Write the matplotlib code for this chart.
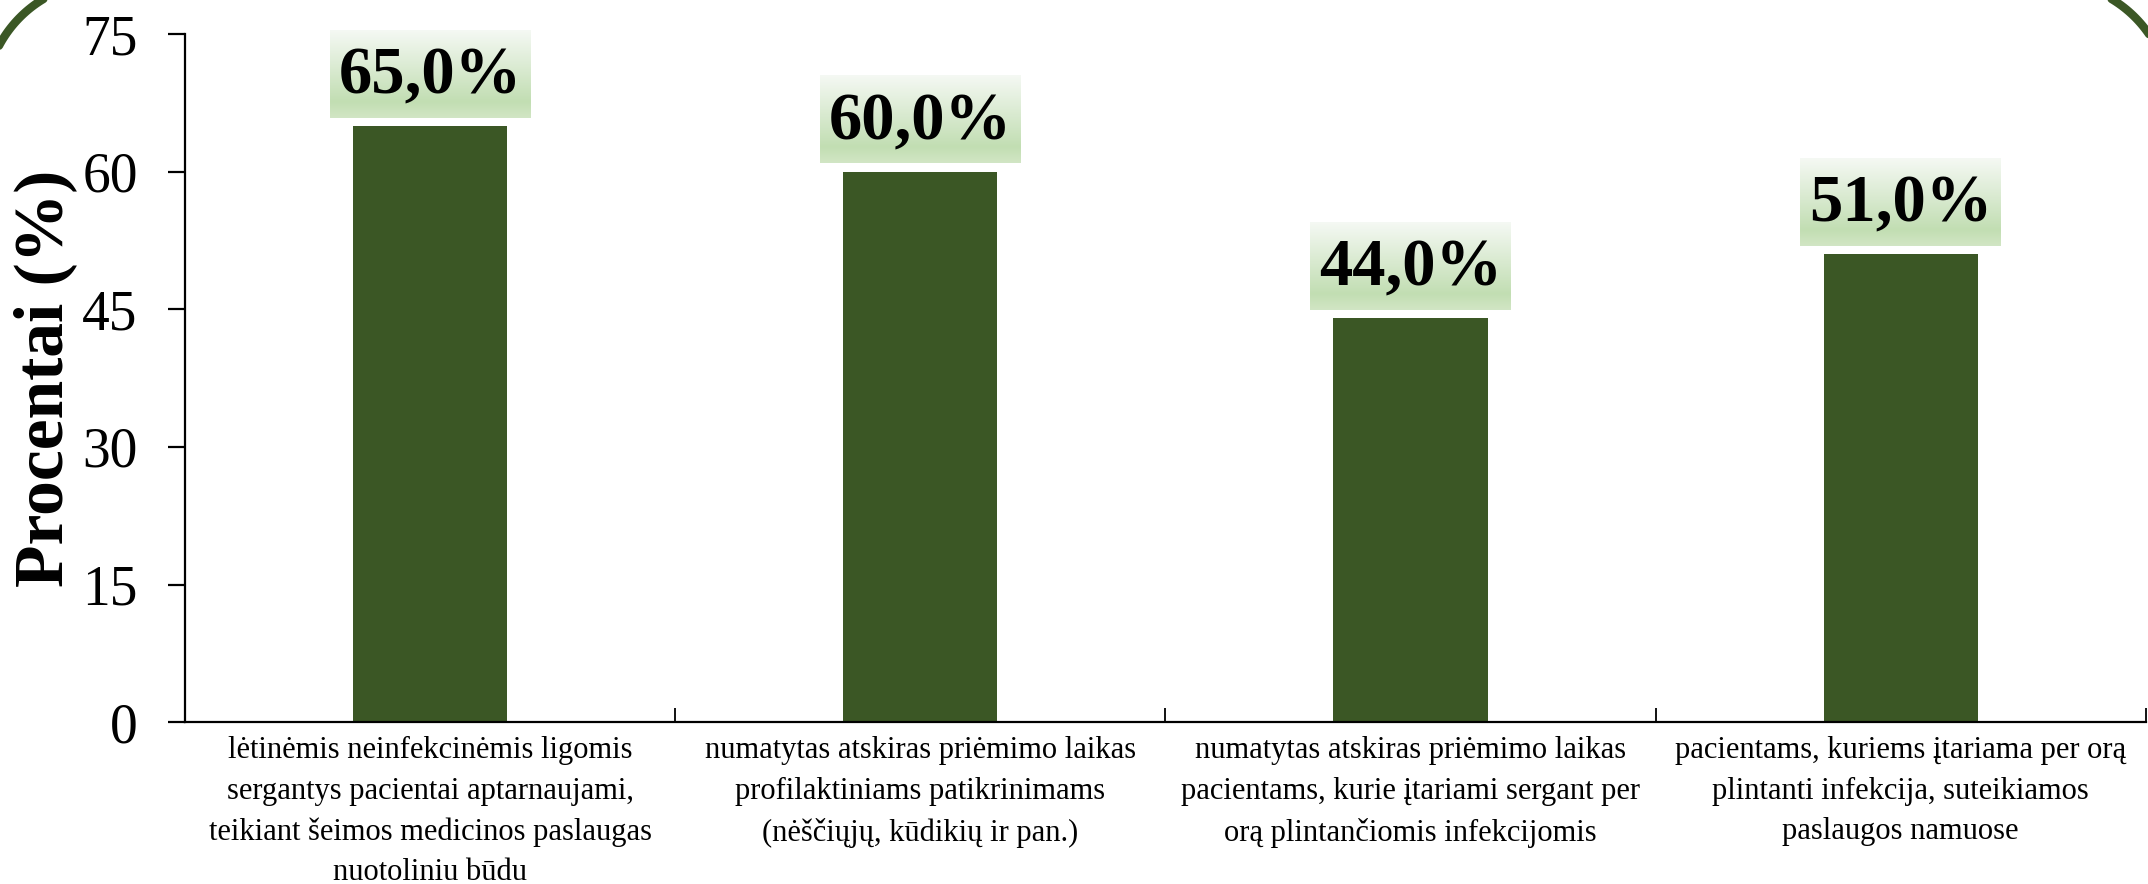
import matplotlib.pyplot as plt
import numpy as np

# -------------------------
# Global style
# -------------------------
plt.rcParams.update({
    "font.family": ["Liberation Serif", "DejaVu Serif"],
    "axes.linewidth": 1.6,
})

# -------------------------
# Data
# -------------------------
categories = [
    "lėtinėmis neinfekcinėmis ligomis\nsergantys pacientai aptarnaujami,\nteikiant šeimos medicinos paslaugas\nnuotoliniu būdu",
    "numatytas atskiras priėmimo laikas\nprofilaktiniams patikrinimams\n(nėščiųjų, kūdikių ir pan.)",
    "numatytas atskiras priėmimo laikas\npacientams, kurie įtariami sergant per\norą plintančiomis infekcijomis",
    "pacientams, kuriems įtariama per orą\nplintanti infekcija, suteikiamos\npaslaugos namuose",
]
values = [65.0, 60.0, 44.0, 51.0]
y_ticks = [0, 15, 30, 45, 60, 75]

BAR_COLOR = "#3b5725"
W, H = 2148, 884

fig = plt.figure(figsize=(W / 100, H / 100), dpi=100)

# -------------------------
# Rounded outer frame (pixel units, only top corners visible)
# -------------------------
ax_bg = fig.add_axes([0, 0, 1, 1], zorder=-1)
ax_bg.set_xlim(0, W)
ax_bg.set_ylim(0, H)
ax_bg.axis("off")
R = 120
left, right, top, bottom = -15, W + 22, H + 18, -300
th_l = np.linspace(np.pi / 2, np.pi, 60)
th_r = np.linspace(0, np.pi / 2, 60)[::-1]
fx = np.concatenate([[left], left + R + R * np.cos(th_l[::-1]),
                     right - R + R * np.cos(th_r[::-1])[::-1], [right]])
fy = np.concatenate([[bottom], top - R + R * np.sin(th_l[::-1]),
                     top - R + R * np.sin(th_r[::-1])[::-1], [bottom]])
ax_bg.plot(fx, fy, color=BAR_COLOR, linewidth=6, solid_capstyle="round")

ax = fig.add_axes([0.0861, 0.183, 0.9129, 0.7785])
ax.patch.set_alpha(0)

x = np.arange(len(categories))
ax.bar(x, values, width=0.315, color=BAR_COLOR, zorder=2)

# -------------------------
# Value labels on gradient boxes
# -------------------------
grad = np.linspace(0, 1, 100)
c_top = np.array([0.96, 0.975, 0.955])
c_mid = np.array([0.76, 0.87, 0.70])
c_bot = np.array([0.82, 0.90, 0.77])
rows = []
for t in grad:
    if t < 0.82:
        rows.append(c_top + (c_mid - c_top) * (t / 0.82))
    else:
        rows.append(c_mid + (c_bot - c_mid) * ((t - 0.82) / 0.18))
grad_img = np.array(rows)[:, None, :]

box_w, box_h, box_gap = 0.41, 9.5, 0.9
for xi, v in zip(x, values):
    y0 = v + box_gap
    ax.imshow(grad_img, extent=[xi - box_w / 2, xi + box_w / 2, y0, y0 + box_h],
              origin="upper", aspect="auto", zorder=3, clip_on=False,
              interpolation="bilinear")
    ax.text(xi, y0 + box_h / 2 - 0.3, f"{v:.1f}%".replace(".", ","),
            ha="center", va="center", fontsize=48, fontweight="bold",
            color="black", zorder=4, clip_on=False)

# -------------------------
# Axes styling
# -------------------------
ax.set_xlim(-0.5, 3.5)
ax.set_ylim(0, 75)
ax.set_yticks(y_ticks)
ax.set_yticklabels([str(t) for t in y_ticks], fontsize=40)
ax.tick_params(axis="y", direction="out", length=12, width=1.6, pad=22)

ax.set_xticks(x)
ax.set_xticklabels(categories, fontsize=22)
ax.set_xticks(np.arange(len(categories)) + 0.5, minor=True)
ax.tick_params(axis="x", which="major", length=0, pad=10)
ax.tick_params(axis="x", which="minor", direction="in", length=10, width=1.3)
for lab in ax.get_xticklabels():
    lab.set_linespacing(1.52)

for s in ["top", "right"]:
    ax.spines[s].set_visible(False)

ax.set_ylabel("Procentai (%)", fontsize=50, fontweight="bold")
ax.yaxis.set_label_coords(-0.055, 0.5)

fig.savefig("out.png", dpi=100)
